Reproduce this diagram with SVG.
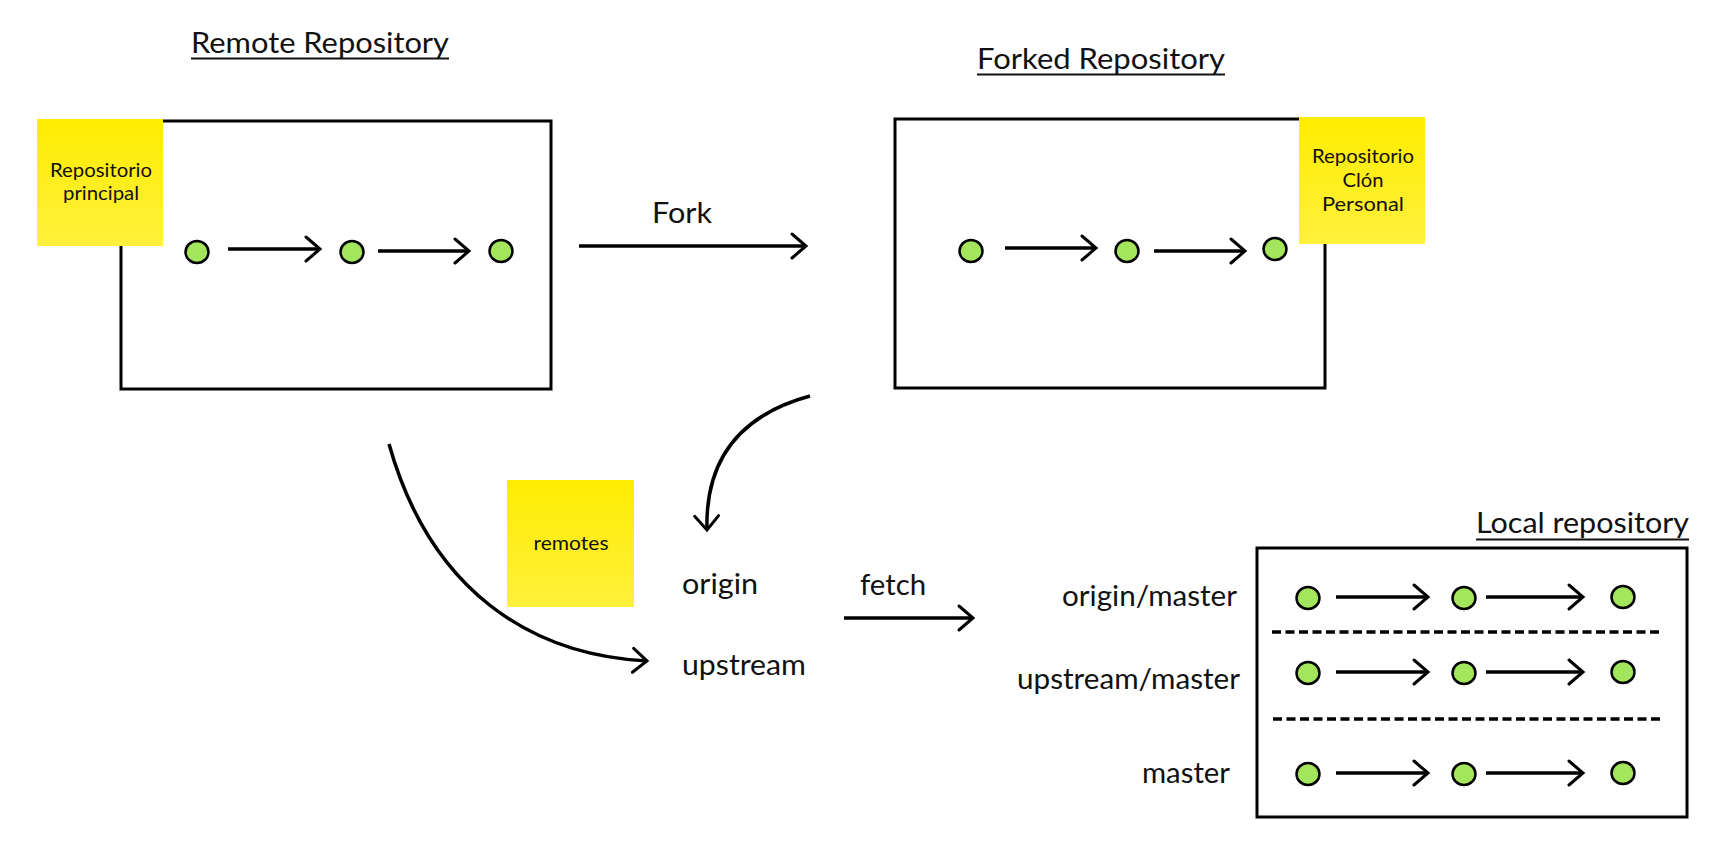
<svg xmlns="http://www.w3.org/2000/svg" width="1722" height="864" viewBox="0 0 1722 864">
<defs>
<linearGradient id="sticky" x1="0" y1="0" x2="0" y2="1">
<stop offset="0" stop-color="#FFEC00"/>
<stop offset="1" stop-color="#FFF03C"/>
</linearGradient>
<marker id="chev" markerUnits="userSpaceOnUse" viewBox="-17 -15 20 30" markerWidth="20" markerHeight="30" refX="0" refY="0" orient="auto">
<path d="M-14,-12 L0,0 L-14,12" fill="none" stroke="#000" stroke-width="3" stroke-linecap="round" stroke-linejoin="miter"/>
</marker>
</defs>
<style>
text{font-family:Lato,"Liberation Sans",sans-serif;fill:#111}
.title{font-size:28px}
.lbl{font-size:28px}
.note{font-size:19px;text-anchor:middle}
.box{fill:#fff;stroke:#000;stroke-width:3}
.stk{fill:url(#sticky)}
.c{fill:#A3E65B;stroke:#000;stroke-width:2.5}
.a{fill:none;stroke:#000;stroke-width:3.5;marker-end:url(#chev)}
.ul{stroke:#111;stroke-width:1.8}
.dash{stroke:#000;stroke-width:3.5;stroke-dasharray:9 4.5}
</style>
<rect width="1722" height="864" fill="#fff"/>

<g id="remote-repo">
<text class="title" x="191" y="53" textLength="258" lengthAdjust="spacingAndGlyphs">Remote Repository</text>
<line class="ul" x1="191" y1="58.5" x2="449" y2="58.5"/>
<rect class="box" x="121" y="121" width="430" height="268"/>
<ellipse class="c" cx="197" cy="252" rx="11.5" ry="11"/>
<ellipse class="c" cx="352" cy="252" rx="11.5" ry="11"/>
<ellipse class="c" cx="501" cy="251" rx="11.5" ry="11"/>
<path class="a" d="M228,249 L320,249"/>
<path class="a" d="M378,251 L469,251"/>
</g>
<g id="note-principal">
<rect class="stk" x="37" y="119" width="126" height="127"/>
<text class="note" x="101" y="177" textLength="102" lengthAdjust="spacingAndGlyphs">Repositorio</text>
<text class="note" x="101" y="200" textLength="76" lengthAdjust="spacingAndGlyphs">principal</text>
</g>

<g id="forked-repo">
<text class="title" x="977" y="69" textLength="248" lengthAdjust="spacingAndGlyphs">Forked Repository</text>
<line class="ul" x1="977" y1="74.5" x2="1225" y2="74.5"/>
<rect class="box" x="895" y="119" width="430" height="269"/>
<ellipse class="c" cx="971" cy="251" rx="11.5" ry="11"/>
<ellipse class="c" cx="1127" cy="251" rx="11.5" ry="11"/>
<ellipse class="c" cx="1275" cy="249" rx="11.5" ry="11"/>
<path class="a" d="M1005,248 L1096,248"/>
<path class="a" d="M1154,251 L1245,251"/>
</g>
<g id="note-clon">
<rect class="stk" x="1299" y="117" width="126" height="127"/>
<text class="note" x="1363" y="163" textLength="102" lengthAdjust="spacingAndGlyphs">Repositorio</text>
<text class="note" x="1363" y="187" textLength="41" lengthAdjust="spacingAndGlyphs">Clón</text>
<text class="note" x="1363" y="211" textLength="82" lengthAdjust="spacingAndGlyphs">Personal</text>
</g>

<g id="note-remotes">
<rect class="stk" x="507" y="480" width="127" height="127"/>
<text class="note" x="571" y="550" textLength="75" lengthAdjust="spacingAndGlyphs">remotes</text>
</g>
<g id="remote-origin"><text class="lbl" x="682" y="594" textLength="76" lengthAdjust="spacingAndGlyphs">origin</text></g>
<g id="remote-upstream"><text class="lbl" x="682" y="675" textLength="124" lengthAdjust="spacingAndGlyphs">upstream</text></g>

<g id="local-repo">
<text class="title" x="1476" y="533" textLength="213" lengthAdjust="spacingAndGlyphs">Local repository</text>
<line class="ul" x1="1476" y1="539.5" x2="1689" y2="539.5"/>
<rect class="box" x="1257" y="548" width="430" height="269"/>
<text class="lbl" x="1062" y="606" textLength="175" lengthAdjust="spacingAndGlyphs">origin/master</text>
<text class="lbl" x="1017" y="689" textLength="223" lengthAdjust="spacingAndGlyphs">upstream/master</text>
<text class="lbl" x="1142" y="783" textLength="88" lengthAdjust="spacingAndGlyphs">master</text>
<ellipse class="c" cx="1308" cy="598" rx="11.5" ry="11"/>
<ellipse class="c" cx="1464" cy="598" rx="11.5" ry="11"/>
<ellipse class="c" cx="1623" cy="597" rx="11.5" ry="11"/>
<path class="a" d="M1336,597 L1428,597"/>
<path class="a" d="M1486,597 L1583,597"/>
<line class="dash" x1="1272" y1="632" x2="1663" y2="632"/>
<ellipse class="c" cx="1308" cy="673" rx="11.5" ry="11"/>
<ellipse class="c" cx="1464" cy="673" rx="11.5" ry="11"/>
<ellipse class="c" cx="1623" cy="672" rx="11.5" ry="11"/>
<path class="a" d="M1336,672 L1428,672"/>
<path class="a" d="M1486,672 L1583,672"/>
<line class="dash" x1="1273" y1="719" x2="1663" y2="719"/>
<ellipse class="c" cx="1308" cy="774" rx="11.5" ry="11"/>
<ellipse class="c" cx="1464" cy="774" rx="11.5" ry="11"/>
<ellipse class="c" cx="1623" cy="773" rx="11.5" ry="11"/>
<path class="a" d="M1336,773 L1428,773"/>
<path class="a" d="M1486,773 L1583,773"/>
</g>

<g id="connectors">
<path class="a" d="M579,246 L806,246"/>
<text class="lbl" x="652" y="223" textLength="60" lengthAdjust="spacingAndGlyphs">Fork</text>
<path class="a" d="M810,396 C740,415 705,460 707,530"/>
<path class="a" d="M389,444 C430,590 530,655 647,661"/>
<path class="a" d="M844,618 L973,618"/>
<text class="lbl" x="860" y="595" textLength="66" lengthAdjust="spacingAndGlyphs">fetch</text>
</g>
</svg>
